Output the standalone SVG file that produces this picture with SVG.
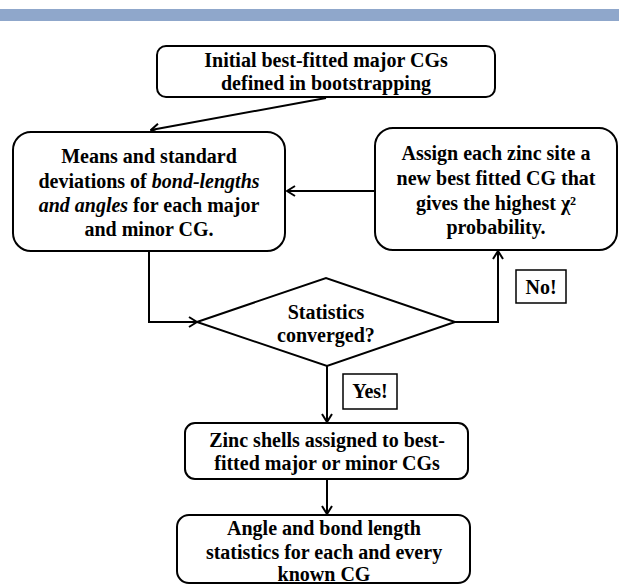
<svg xmlns="http://www.w3.org/2000/svg" width="619" height="584" viewBox="0 0 619 584">
<style>
.box{fill:#fff;stroke:#000;stroke-width:2}
.lbl{fill:#fff;stroke:#000;stroke-width:1.5}
.t{font-family:"Liberation Serif","Times New Roman",serif;font-weight:bold;font-size:20px;text-anchor:middle;fill:#000}
.i{font-style:italic}
.c{fill:none;stroke:#000;stroke-width:2}
</style>
<defs>
<marker id="ah" viewBox="0 0 12 12" refX="11" refY="6" markerWidth="12" markerHeight="12" markerUnits="userSpaceOnUse" orient="auto">
<path d="M3,1 L11,6 L3,11" fill="none" stroke="#000" stroke-width="2"/>
</marker>
</defs>
<rect x="0" y="9" width="619" height="12" fill="#8FA7CB"/>
<g id="connectors">
<line class="c" x1="326" y1="98" x2="151" y2="130" marker-end="url(#ah)"/>
<line class="c" x1="375" y1="191" x2="287" y2="191" marker-end="url(#ah)"/>
<polyline class="c" points="149,251 149,322 197,322" marker-end="url(#ah)"/>
<polyline class="c" points="455,322 498,322 498,251" marker-end="url(#ah)"/>
<line class="c" x1="327" y1="366" x2="327" y2="422" marker-end="url(#ah)"/>
<line class="c" x1="327" y1="479" x2="327" y2="514" marker-end="url(#ah)"/>
</g>
<g id="n1">
<rect class="box" x="157" y="46" width="338" height="51" rx="9"/>
<text class="t" x="326" y="67">Initial best-fitted major CGs</text>
<text class="t" x="326" y="90">defined in bootstrapping</text>
</g>
<g id="n2">
<rect class="box" x="13" y="132" width="272" height="119" rx="18"/>
<text class="t" x="149" y="163">Means and standard</text>
<text class="t" x="149" y="188">deviations of <tspan class="i">bond-lengths</tspan></text>
<text class="t" x="149" y="212"><tspan class="i">and angles</tspan> for each major</text>
<text class="t" x="149" y="236">and minor CG.</text>
</g>
<g id="n3">
<rect class="box" x="375" y="128" width="242" height="122" rx="18"/>
<text class="t" x="496" y="160">Assign each zinc site a</text>
<text class="t" x="496" y="185">new best fitted CG that</text>
<text class="t" x="496" y="210">gives the highest χ²</text>
<text class="t" x="496" y="234">probability.</text>
</g>
<g id="n4">
<polygon class="box" points="197,322 326,278 455,322 327,366"/>
<text class="t" x="326" y="319">Statistics</text>
<text class="t" x="326" y="342">converged?</text>
</g>
<g id="lblNo">
<rect class="lbl" x="516" y="270" width="50" height="33"/>
<text class="t" x="541" y="294">No!</text>
</g>
<g id="lblYes">
<rect class="lbl" x="343" y="374" width="54" height="35"/>
<text class="t" x="370" y="398">Yes!</text>
</g>
<g id="n5">
<rect class="box" x="185" y="423" width="283" height="56" rx="10"/>
<text class="t" x="327" y="447">Zinc shells assigned to best-</text>
<text class="t" x="327" y="470">fitted major or minor CGs</text>
</g>
<g id="n6">
<rect class="box" x="177" y="515" width="293" height="68" rx="12"/>
<text class="t" x="324" y="535">Angle and bond length</text>
<text class="t" x="324" y="559">statistics for each and every</text>
<text class="t" x="324" y="581">known CG</text>
</g>
</svg>
